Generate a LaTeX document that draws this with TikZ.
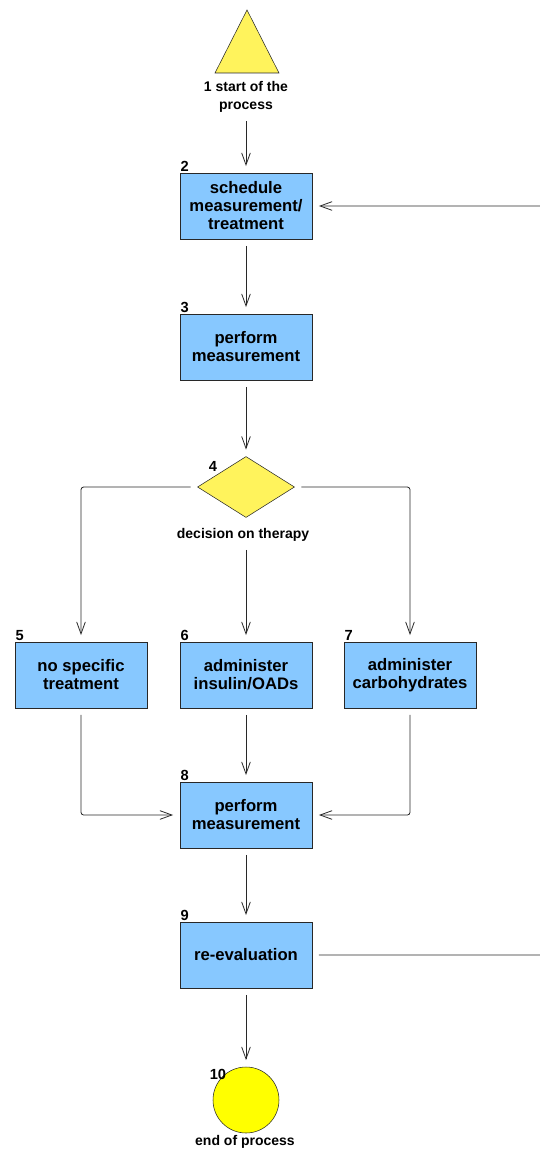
\documentclass[tikz,border=0pt]{standalone}
\usepackage{fontspec}
\setmainfont{Liberation Sans}
\usepackage{tikz}
\usetikzlibrary{arrows.meta, positioning, calc, shapes.geometric}
\definecolor{boxblue}{RGB}{135,200,255}
\definecolor{triyellow}{RGB}{255,243,92}
\definecolor{endyellow}{RGB}{255,255,0}
\definecolor{edge}{RGB}{40,40,40}

\begin{document}
\begin{tikzpicture}[
    x=0.75pt, y=-0.75pt,
    task/.style={draw=edge, fill=boxblue, minimum width=99pt,
                 minimum height=49.5pt, inner sep=0pt, align=center,
                 font=\fontsize{12.5}{13.5}\selectfont\bfseries},
    num/.style={anchor=south west, inner sep=0.5pt,
                font=\fontsize{11}{11}\selectfont\bfseries},
    caption/.style={align=center, inner sep=1pt,
                font=\fontsize{10.5}{14}\selectfont\bfseries},
    arr/.style={-{Straight Barb[length=9pt, width=6.5pt]}, line width=0.6pt,
                draw=edge, shorten <=5pt, shorten >=5pt, rounded corners=2pt},
]
\useasboundingbox (0,0) rectangle (539,1151);

% start
\filldraw[draw=edge, fill=triyellow] (247,10) -- (279,73) -- (215,73) -- cycle;
\node[caption] (start) at (246,97) {1 start of the\\process};

% main column
\node[task] (b2) at (246,206) {schedule\\measurement/\\treatment};
\node[num] at (b2.north west) {2};
\node[task] (b3) at (246,347) {perform\\measurement};
\node[num] at (b3.north west) {3};

\node[diamond, draw=edge, fill=triyellow, minimum width=72.75pt,
      minimum height=45.75pt, inner sep=0pt] (dec) at (246,487) {};
\node[num] at (208,472) {4};
\node[caption] (declab) at (243,535) {decision on therapy};

% therapy options
\node[task] (b5) at (81,675) {no specific\\treatment};
\node[num] at (b5.north west) {5};
\node[task] (b6) at (246,675) {administer\\insulin/OADs};
\node[num] at (b6.north west) {6};
\node[task] (b7) at (410,675) {administer\\carbohydrates};
\node[num] at (b7.north west) {7};

\node[task] (b8) at (246,815) {perform\\measurement};
\node[num] at (b8.north west) {8};
\node[task] (b9) at (246,955) {re-evaluation};
\node[num] at (b9.north west) {9};

% end
\node[circle, draw=edge, fill=endyellow, minimum size=49.5pt,
      inner sep=0pt] (stop) at (246,1100) {};
\node[num, anchor=south east] at (227,1081) {10};
\node[caption] (stoplab) at (245,1142) {end of process};

\coordinate (rim) at (545,0);

\draw[arr] (start) -- (b2);
\draw[arr] (b2) -- (b3);
\draw[arr] (b3) -- (dec);
\draw[arr] (dec.west) -| (b5);
\draw[arr] (declab.south -| b6.north) -- (b6);
\draw[arr] (dec.east) -| (b7);
\draw[arr] (b5) |- (b8);
\draw[arr] (b6) -- (b8);
\draw[arr] (b7) |- (b8);
\draw[arr] (b8) -- (b9);
\draw[arr] (b9) -- (stop);
\draw[arr] (b9.east) -- (b9.east -| rim) -- (b2.east -| rim) -- (b2.east);

\end{tikzpicture}
\end{document}
